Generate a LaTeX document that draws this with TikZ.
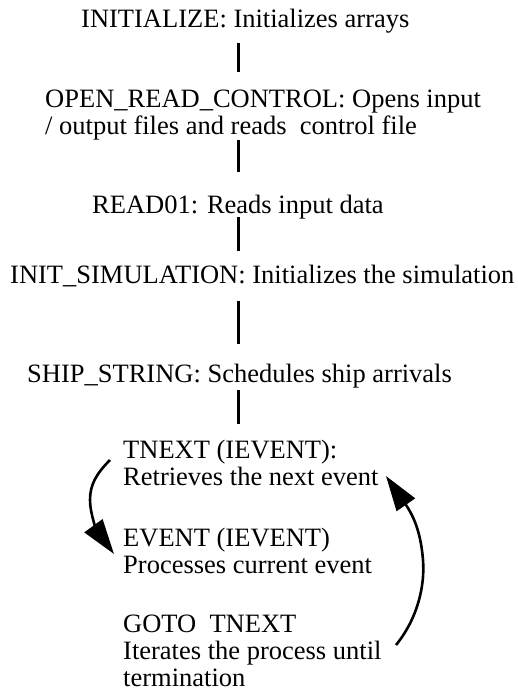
\documentclass[tikz,border=0pt]{standalone}
\usepackage{fontspec}
\setmainfont{Liberation Serif}
\usetikzlibrary{arrows.meta}
\begin{document}
\begin{tikzpicture}[x=1pt,y=-1pt,
  txt/.style={inner sep=0pt,anchor=base west,align=left,font=\fontsize{26.5}{27}\selectfont},
  link/.style={line width=3pt},
  loop/.style={line width=2.6pt,-{Triangle[length=35pt,width=22pt]}}]
\useasboundingbox (0,0) rectangle (517,693);
\coordinate (lx) at (238,0);
% multi-line nodes: base anchor is the baseline of the last line
\node[txt] (init) at (81,28) {INITIALIZE: Initializes arrays};
\node[txt] (open) at (45,134) {OPEN\_READ\_CONTROL: Opens input\\/ output files and reads\ \ control file};
\node[txt] (read) at (92,213) {READ01: Reads input data};
\node[txt] (sim) at (10,283) {INIT\_SIMULATION: Initializes the simulation};
\node[txt] (ship) at (27,382) {SHIP\_STRING: Schedules ship arrivals};
\node[txt] (tnext) at (123,485) {TNEXT (IEVENT):\\Retrieves the next event};
\node[txt] (event) at (123,573) {EVENT (IEVENT)\\Processes current event};
\node[txt] (goto) at (123,686) {GOTO\ \ TNEXT\\Iterates the process until\\termination};
\draw[link] ([yshift=-9pt]init.south -| lx) -- ([yshift=17pt]open.north -| lx);
\draw[link] ([yshift=0pt]open.south -| lx) -- ([yshift=22pt]read.north -| lx);
\draw[link] ([yshift=2pt]read.south -| lx) -- ([yshift=13pt]sim.north -| lx);
\draw[link] ([yshift=-14pt]sim.south -| lx) -- ([yshift=19pt]ship.north -| lx);
\draw[link] ([yshift=-2pt]ship.south -| lx) -- ([yshift=15pt]tnext.north -| lx);
\coordinate (ls) at (110,460);
\coordinate (le) at (114,554);
\coordinate (rs) at (396,645);
\coordinate (re) at (386,476);
\draw[loop] (ls) .. controls (96,474) and (90,485) .. (90,500) .. controls (90,515) and (98,532) .. (le);
\draw[loop] (rs) .. controls (418,618) and (425,585) .. (423,560) .. controls (421,535) and (415,518) .. (re);
\end{tikzpicture}
\end{document}
